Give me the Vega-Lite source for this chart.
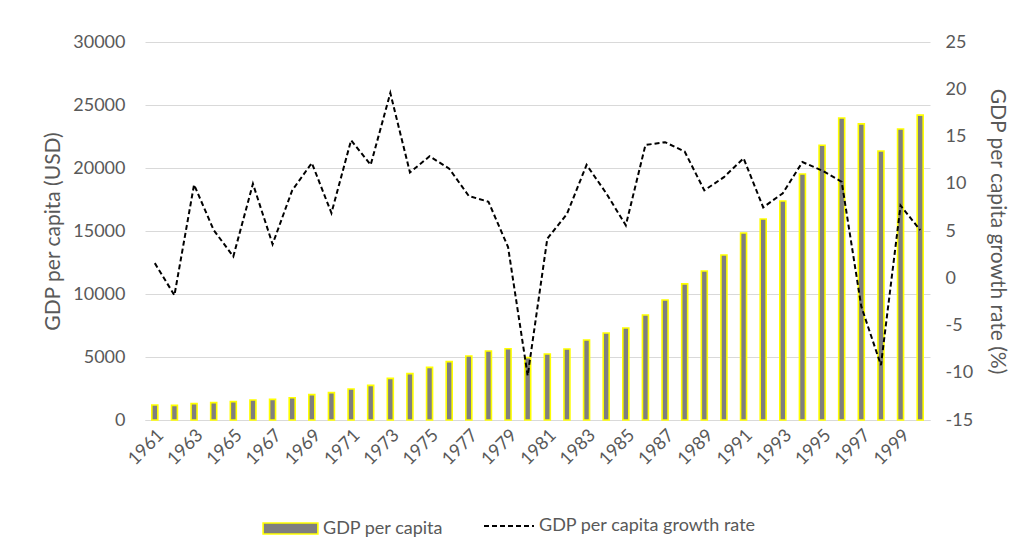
{
  "$schema": "https://vega.github.io/schema/vega-lite/v6.json",
  "autosize": {"type": "none"},
  "padding": {"left": 145, "top": 42, "right": 98, "bottom": 139},
  "width": 785,
  "height": 378,
  "background": "white",
  "config": {
    "font": "Lato",
    "view": {"stroke": null},
    "axis": {"labelColor": "#595959", "titleColor": "#595959", "labelFont": "Lato", "titleFont": "Lato", "titleFontWeight": "normal", "labelFontSize": 18, "titleFontSize": 21, "ticks": false, "domain": false},
    "legend": {"labelColor": "#595959", "labelFont": "Lato", "labelFontSize": 18, "labelLimit": 500}
  },
  "data": {
    "values": [
      {"year": 1961, "gdp": 1190, "growth": 1.6},
      {"year": 1962, "gdp": 1160, "growth": -1.8},
      {"year": 1963, "gdp": 1300, "growth": 9.9},
      {"year": 1964, "gdp": 1380, "growth": 5.1},
      {"year": 1965, "gdp": 1460, "growth": 2.3},
      {"year": 1966, "gdp": 1590, "growth": 10.0},
      {"year": 1967, "gdp": 1640, "growth": 3.6},
      {"year": 1968, "gdp": 1770, "growth": 9.3},
      {"year": 1969, "gdp": 2010, "growth": 12.2},
      {"year": 1970, "gdp": 2170, "growth": 6.9},
      {"year": 1971, "gdp": 2460, "growth": 14.6},
      {"year": 1972, "gdp": 2750, "growth": 12.0},
      {"year": 1973, "gdp": 3300, "growth": 19.6},
      {"year": 1974, "gdp": 3680, "growth": 11.2},
      {"year": 1975, "gdp": 4180, "growth": 12.9},
      {"year": 1976, "gdp": 4630, "growth": 11.6},
      {"year": 1977, "gdp": 5080, "growth": 8.7},
      {"year": 1978, "gdp": 5480, "growth": 8.1},
      {"year": 1979, "gdp": 5660, "growth": 3.3},
      {"year": 1980, "gdp": 4950, "growth": -10.3},
      {"year": 1981, "gdp": 5240, "growth": 4.2},
      {"year": 1982, "gdp": 5640, "growth": 6.8},
      {"year": 1983, "gdp": 6350, "growth": 12.0},
      {"year": 1984, "gdp": 6900, "growth": 9.0},
      {"year": 1985, "gdp": 7300, "growth": 5.6},
      {"year": 1986, "gdp": 8330, "growth": 14.1},
      {"year": 1987, "gdp": 9520, "growth": 14.4},
      {"year": 1988, "gdp": 10800, "growth": 13.4},
      {"year": 1989, "gdp": 11830, "growth": 9.3},
      {"year": 1990, "gdp": 13100, "growth": 10.7},
      {"year": 1991, "gdp": 14840, "growth": 12.7},
      {"year": 1992, "gdp": 15950, "growth": 7.5},
      {"year": 1993, "gdp": 17380, "growth": 9.0},
      {"year": 1994, "gdp": 19520, "growth": 12.3},
      {"year": 1995, "gdp": 21800, "growth": 11.4},
      {"year": 1996, "gdp": 23970, "growth": 10.2},
      {"year": 1997, "gdp": 23500, "growth": -3.0},
      {"year": 1998, "gdp": 21350, "growth": -9.2},
      {"year": 1999, "gdp": 23100, "growth": 7.7},
      {"year": 2000, "gdp": 24200, "growth": 5.1}
    ]
  },
  "encoding": {
    "x": {"field": "year", "type": "ordinal", "scale": {"paddingInner": 0.6, "paddingOuter": 0.3},
      "axis": {"title": null, "labelAngle": -45, "labelExpr": "datum.value % 2 == 1 ? datum.label : ''", "labelPadding": 6, "domain": true, "domainColor": "#d9d9d9", "labelOverlap": false}}
  },
  "layer": [
    {
      "mark": {"type": "bar", "size": 6, "stroke": "#ffff00", "strokeWidth": 1.6},
      "encoding": {
        "y": {"field": "gdp", "type": "quantitative", "scale": {"domain": [0, 30000], "nice": false},
          "axis": {"title": "GDP per capita (USD)", "values": [0,5000,10000,15000,20000,25000,30000], "labelExpr": "toString(datum.value)", "gridColor": "#d9d9d9", "labelPadding": 20, "titlePadding": 9}},
        "fill": {"datum": "GDP per capita", "type": "nominal", "scale": {"range": ["#7f7f7f"]},
          "legend": {"title": null, "orient": "none", "legendX": 117, "legendY": 458, "symbolType": "M-1,-0.2H1V0.2H-1Z", "symbolSize": 3000, "symbolStrokeColor": "#ffff00", "symbolStrokeWidth": 1.6, "symbolOpacity": 1}}
      }
    },
    {
      "mark": {"type": "line", "color": "black", "strokeWidth": 2, "strokeDash": [5, 3]},
      "encoding": {
        "y": {"field": "growth", "type": "quantitative", "scale": {"domain": [-15, 25], "nice": false},
          "axis": {"orient": "right", "title": "GDP per capita growth rate (%)", "values": [-15,-10,-5,0,5,10,15,20,25], "labelExpr": "toString(datum.value)", "grid": false, "labelPadding": 15, "titlePadding": 14}},
        "strokeDash": {"datum": "GDP per capita growth rate", "type": "nominal", "scale": {"range": [[5, 3]]},
          "legend": {"title": null, "orient": "none", "legendX": 338, "legendY": 458, "symbolType": "stroke", "symbolSize": 2500, "symbolStrokeColor": "black", "symbolStrokeWidth": 2}}
      }
    }
  ],
  "resolve": {"scale": {"y": "independent"}}
}
